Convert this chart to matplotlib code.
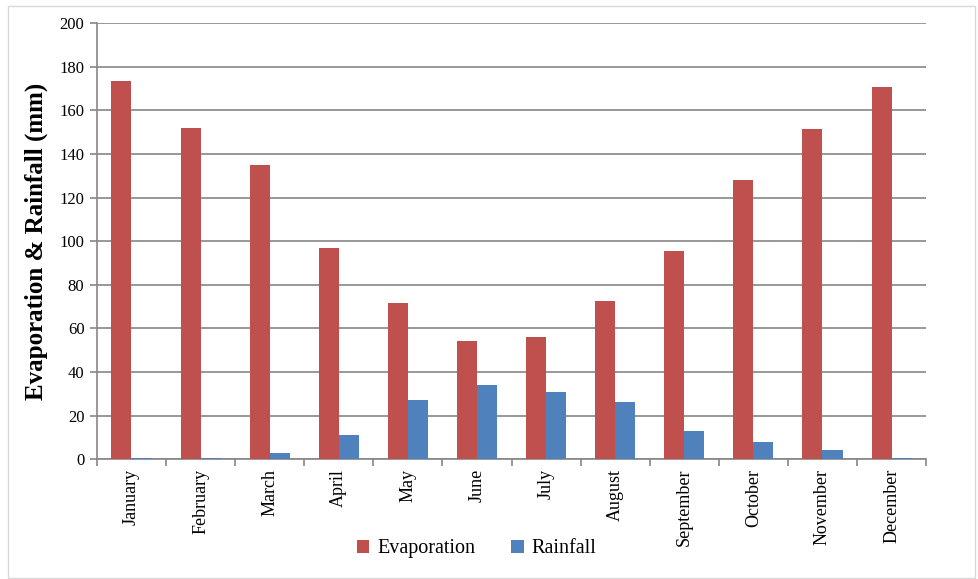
import matplotlib
matplotlib.use('Agg')
from matplotlib import pyplot as plt
from matplotlib.patches import Rectangle
import numpy as np

months = ['January', 'February', 'March', 'April', 'May', 'June',
          'July', 'August', 'September', 'October', 'November', 'December']
evaporation = [173.5, 152, 135, 97, 71.5, 54, 56, 72.5, 95.5, 128, 151.5, 170.5]
rainfall = [0.5, 0.5, 3, 11, 27, 34, 31, 26, 13, 8, 4, 0.5]

red = '#C0504D'
blue = '#4F81BD'
grey = '#868686'

plt.rcParams['font.family'] = ['Liberation Serif', 'DejaVu Serif']

fig = plt.figure(figsize=(9.79, 5.79), dpi=100)
ax = fig.add_axes([0.099, 0.207, 0.847, 0.753])

# light border round the chart area
fig.patches.append(Rectangle((0.008, 0.002), 0.988, 0.988, transform=fig.transFigure,
                             fill=False, edgecolor='#d9d9d9', linewidth=1))

x = np.arange(len(months))
w = 0.29
ax.bar(x - w / 2, evaporation, w, color=red, label='Evaporation', zorder=3)
ax.bar(x + w / 2, rainfall, w, color=blue, label='Rainfall', zorder=3)

ax.set_xlim(-0.5, len(months) - 0.5)
ax.set_ylim(0, 200)
ax.set_yticks(np.arange(0, 201, 20))
ax.yaxis.grid(True, color=grey, linewidth=1.2, zorder=0)
ax.set_axisbelow(True)

ax.set_xticks(x)
ax.set_xticklabels(months, rotation=90, va='top', ha='center', fontsize=13)
ax.set_xticks(np.arange(-0.5, len(months)), minor=True)
ax.tick_params(axis='x', which='major', length=0, pad=7)
ax.tick_params(axis='x', which='minor', length=5, color=grey, width=1.2)
ax.tick_params(axis='y', length=5, color=grey, width=1.2, labelsize=12, pad=4)

for s in ['top', 'right']:
    ax.spines[s].set_visible(False)
for s in ['left', 'bottom']:
    ax.spines[s].set_color(grey)
    ax.spines[s].set_linewidth(1.2)

ax.set_ylabel('Evaporation & Rainfall (mm)', fontsize=18, fontweight='bold', labelpad=8)

fig.legend(loc='center', bbox_to_anchor=(0.487, 0.052), ncol=2, frameon=False,
           fontsize=14.5, handlelength=0.6, handleheight=0.6, columnspacing=1.8,
           handletextpad=0.4)

fig.savefig('out.png', dpi=100)
